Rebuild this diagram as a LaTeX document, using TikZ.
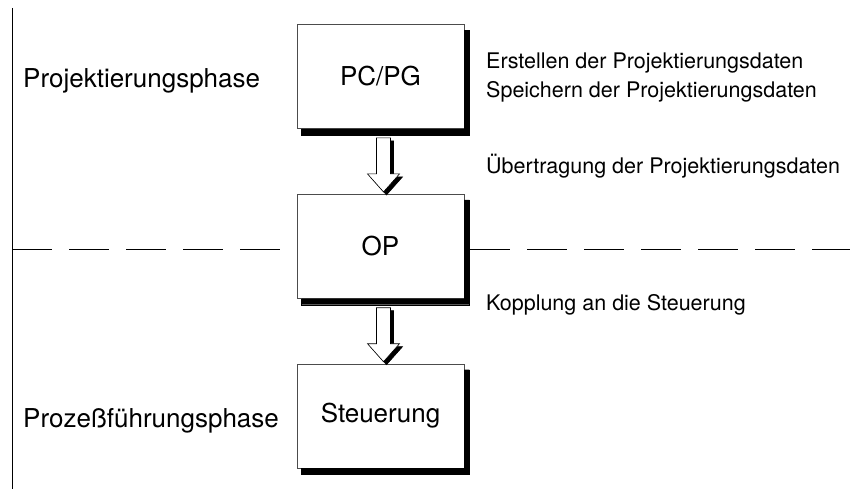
\documentclass[tikz,border=0pt]{standalone}
\usepackage{fontspec}
\setmainfont{TeX Gyre Heros}
\usetikzlibrary{positioning,calc}
\tikzset{
    unit/.style={draw=black!70, line width=0.8pt, fill=white, inner sep=0pt,
        minimum width=167pt, minimum height=104pt,
        font=\fontsize{26}{30}\selectfont},
    phase/.style={anchor=base west, inner sep=0pt, font=\fontsize{26}{30}\selectfont},
    note/.style={anchor=base west, inner sep=0pt, font=\fontsize{21.5}{30}\selectfont},
    border/.style={line width=0.8pt},
    divide/.style={line width=0.8pt, dash pattern=on 40pt off 17pt}
}
\newcommand{\unitshadow}[1]{%
    \filldraw[fill=black, draw=black, line width=0.4pt]
        let \p1=(#1.south west), \p2=(#1.north east) in
        (\x2,\y2-6pt) -- (\x2+5pt,\y2-6pt) -- (\x2+5pt,\y1-6pt)
        -- (\x1+5pt,\y1-6pt) -- (\x1+5pt,\y1) -- (\x2,\y1) -- cycle;
}
\newcommand{\loadarrow}[2]{%
    \foreach \off/\col in {3pt/black, 0pt/white}
        \filldraw[fill=\col, draw=black, line width=0.6pt]
            let \p1=($(#1.south)+(3,9)$), \p2=($(#2.north)+(3,-2)$) in
            (\x1-7pt+\off,\y1-\off) -- (\x1+7pt+\off,\y1-\off)
            -- (\x1+7pt+\off,\y2+18pt-\off) -- (\x1+16pt+\off,\y2+18pt-\off)
            -- (\x2+\off,\y2-\off) -- (\x1-16pt+\off,\y2+18pt-\off)
            -- (\x1-7pt+\off,\y2+18pt-\off) -- cycle;
}

\begin{document}
\begin{tikzpicture}[x=1pt,y=-1pt]
\useasboundingbox (0,0) rectangle (850,489);

\coordinate (top) at (12,8);
\coordinate (bottom) at (12,489);
\coordinate (left) at (12,249);
\coordinate (right) at (850,249);

\draw[border] (top) -- (bottom);

\node[unit] (pcpg) at (380.5,76.5) {PC/PG};
\node[unit, below=65pt of pcpg] (op) {OP};
\node[unit, below=65pt of op] (plc) {Steuerung};

\unitshadow{pcpg}
\unitshadow{op}
\unitshadow{plc}

\draw[divide] (left) -- (left -| op.west);
\draw[divide] ($(left -| op.east)+(6,0)$) -- (right);

\loadarrow{pcpg}{op}
\loadarrow{op}{plc}

\node[phase] (design) at (23,88) {Projektierungsphase};
\node[phase] (process) at (23,427) {Prozeßführungsphase};

\node[note] (create) at (486,69) {Erstellen der Projektierungsdaten};
\node[note] (store) at (486,98) {Speichern der Projektierungsdaten};
\node[note] (transfer) at (486,174) {Übertragung der Projektierungsdaten};
\node[note] (couple) at (486,310) {Kopplung an die Steuerung};
\end{tikzpicture}
\end{document}
